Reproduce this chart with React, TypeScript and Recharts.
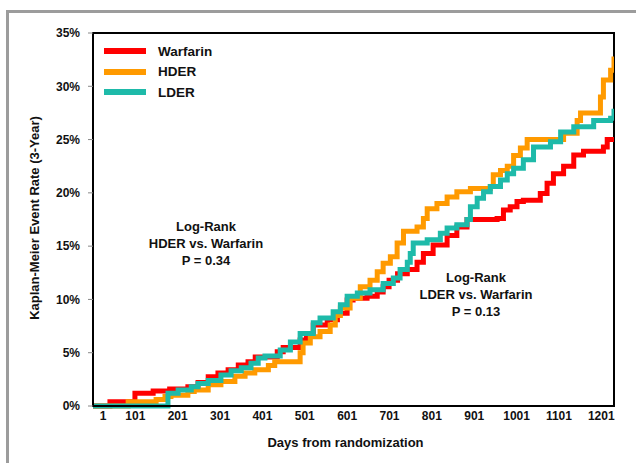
import { LineChart, Line, XAxis, YAxis, ReferenceArea } from 'recharts';

// Kaplan-Meier step curves (day, event rate %)
const warfarinDays = [1, 41, 100, 143, 182, 225, 249, 273, 296, 320, 344, 367, 384, 436, 450, 490, 505, 521, 554, 578, 601, 615, 648, 672, 686, 700, 720, 743, 766, 781, 804, 837, 860, 884, 955, 970, 986, 1002, 1017, 1057, 1073, 1088, 1112, 1136, 1159, 1206, 1215, 1231];
const warfarinRates = [0, 0.4, 1.2, 1.4, 1.6, 1.8, 2.2, 2.75, 3.1, 3.4, 3.85, 4.15, 4.6, 5.1, 5.5, 6.2, 6.8, 7.6, 8.1, 8.7, 9.95, 10.1, 10.3, 10.7, 11.2, 11.8, 12.4, 12.8, 13.5, 14.3, 15.1, 16.0, 16.8, 17.5, 17.6, 18.4, 18.7, 19.2, 19.3, 19.95, 20.9, 21.8, 22.5, 23.55, 23.9, 24.3, 25, 25];

const hderDays = [1, 84, 150, 171, 185, 225, 240, 273, 303, 336, 360, 383, 415, 430, 490, 497, 514, 537, 561, 573, 585, 608, 632, 655, 672, 686, 703, 719, 734, 766, 781, 790, 813, 837, 860, 892, 939, 946, 963, 979, 994, 1010, 1026, 1112, 1144, 1152, 1199, 1206, 1223, 1231];
const hderRates = [0, 0.4, 0.6, 0.9, 1.0, 1.35, 1.5, 2.0, 2.3, 2.8, 3.1, 3.4, 3.8, 4.15, 5.0, 5.9, 6.5, 7.0, 7.6, 8.5, 9.2, 10.1, 11.2, 11.8, 12.6, 13.4, 14.0, 15.3, 16.4, 16.8, 17.6, 18.5, 19.0, 19.6, 20.1, 20.4, 20.6, 21.7, 22.1, 22.5, 23.5, 24.2, 25.0, 25.6, 26.8, 27.5, 29.0, 30.6, 31.5, 32.8];

const lderDays = [1, 171, 178, 202, 233, 249, 273, 303, 327, 351, 374, 391, 407, 443, 467, 490, 521, 537, 568, 585, 601, 625, 655, 686, 710, 726, 743, 750, 757, 790, 821, 837, 860, 884, 892, 908, 923, 939, 963, 979, 994, 1017, 1041, 1081, 1105, 1136, 1183, 1223, 1231];
const lderRates = [0, 0, 1.2, 1.5, 1.8, 2.1, 2.4, 2.9, 3.3, 3.6, 4.0, 4.5, 4.7, 5.25, 6.0, 6.8, 7.8, 8.25, 8.85, 9.5, 10.3, 10.6, 10.9, 11.5, 12.0, 12.8, 13.5, 14.3, 15.3, 15.6, 16.2, 16.7, 17.0, 17.5, 18.7, 19.5, 20.1, 20.6, 21.2, 21.8, 22.3, 23.1, 24.3, 24.8, 25.7, 26.2, 26.8, 27.0, 27.9];

const xTicks = [1, 101, 201, 301, 401, 501, 601, 701, 801, 901, 1001, 1101, 1201];
const yTicks = [0, 5, 10, 15, 20, 25, 30, 35];

const FONT = '"Liberation Sans", Arial, sans-serif';

const series = [
    { name: 'Warfarin', color: '#ff0000', data: warfarinDays.map((d, i) => ({ day: d, rate: warfarinRates[i] })) },
    { name: 'HDER', color: '#ff9a00', data: hderDays.map((d, i) => ({ day: d, rate: hderRates[i] })) },
    { name: 'LDER', color: '#1ebaa9', data: lderDays.map((d, i) => ({ day: d, rate: lderRates[i] })) },
];

const XTick = ({ x, y, payload, index }: any) => (
    <text
        x={x + (index === 0 ? 10 : 0)}
        y={y}
        dy="0.75em"
        textAnchor="middle"
        fill="#111"
        fontSize={12}
        fontWeight="bold"
        fontFamily={FONT}
    >
        {payload.value}
    </text>
);

const YTitle = () => (
    <text
        x={34}
        y={218}
        transform="rotate(-90 34 218)"
        textAnchor="middle"
        dominantBaseline="central"
        fill="#111"
        fontSize={13}
        fontWeight="bold"
        fontFamily={FONT}
    >
        Kaplan-Meier Event Rate (3-Year)
    </text>
);

const noteStyle: React.CSSProperties = {
    position: 'absolute',
    width: 160,
    textAlign: 'center',
    fontFamily: FONT,
    fontWeight: 'bold',
    fontSize: 13,
    lineHeight: '17px',
    color: '#111',
};

export default function App() {
    return (
        <div style={{ position: 'relative', width: 636, height: 463, background: '#fff', overflow: 'hidden' }}>
            <style>{`body{margin:0}`}</style>
            <div
                style={{
                    position: 'absolute',
                    left: 6,
                    top: 10,
                    width: 700,
                    height: 500,
                    borderTop: '3px solid #9c9c9c',
                    borderLeft: '3px solid #9c9c9c',
                }}
            />
            <LineChart width={636} height={463} margin={{ top: 33, right: 22, bottom: 0, left: 0 }}>
                <XAxis
                    type="number"
                    dataKey="day"
                    domain={[1, 1231]}
                    ticks={xTicks}
                    interval={0}
                    allowDataOverflow
                    height={57}
                    tickLine={false}
                    tickSize={0}
                    tickMargin={5}
                    axisLine={{ stroke: '#000', strokeWidth: 2 }}
                    tick={<XTick />}
                    label={{
                        value: 'Days from randomization',
                        position: 'insideBottom',
                        offset: 16,
                        dx: -8,
                        fill: '#111',
                        fontSize: 13,
                        fontWeight: 'bold',
                        fontFamily: FONT,
                    }}
                />
                <YAxis
                    type="number"
                    domain={[0, 35]}
                    ticks={yTicks}
                    interval={0}
                    width={93}
                    tickSize={5}
                    tickMargin={8}
                    tickFormatter={(v) => `${v}%`}
                    axisLine={{ stroke: '#000', strokeWidth: 2 }}
                    tickLine={{ stroke: '#888' }}
                    tick={{ fill: '#111', fontSize: 12, fontWeight: 'bold', fontFamily: FONT }}
                    label={<YTitle />}
                />
                <ReferenceArea x1={1} x2={1231} y1={0} y2={35} fill="none" stroke="#000" strokeWidth={2} />
                {series.map((s) => (
                    <Line
                        key={s.name}
                        data={s.data}
                        dataKey="rate"
                        name={s.name}
                        type="stepAfter"
                        stroke={s.color}
                        strokeWidth={5}
                        dot={false}
                        activeDot={false}
                        isAnimationActive={false}
                    />
                ))}
            </LineChart>
            <div style={{ position: 'absolute', left: 104, top: 41, fontFamily: FONT, fontWeight: 'bold', fontSize: 13.5, color: '#111' }}>
                {series.map((s) => (
                    <div key={s.name} style={{ display: 'flex', alignItems: 'center', height: 20.5 }}>
                        <div style={{ width: 42, height: 6, background: s.color, marginRight: 12 }} />
                        <span>{s.name}</span>
                    </div>
                ))}
            </div>
            <div style={{ ...noteStyle, left: 126, top: 218 }}>
                Log-Rank<br />HDER vs. Warfarin<br />P = 0.34
            </div>
            <div style={{ ...noteStyle, left: 396, top: 269 }}>
                Log-Rank<br />LDER vs. Warfarin<br />P = 0.13
            </div>
        </div>
    );
}
